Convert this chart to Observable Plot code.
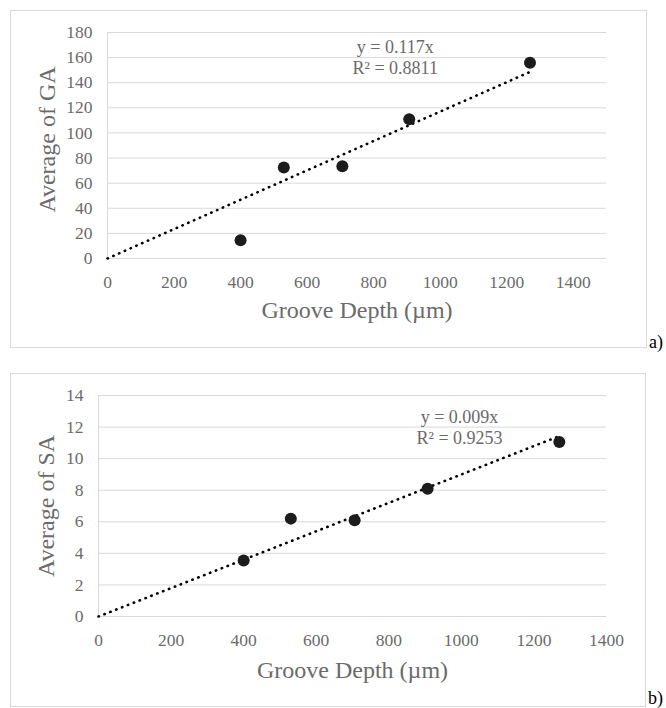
<!DOCTYPE html>
<html><head><meta charset="utf-8">
<script src="https://cdn.jsdelivr.net/npm/d3@7"></script>
<script src="https://cdn.jsdelivr.net/npm/@observablehq/plot@0.6"></script>
<style>
body{margin:0;background:#fff;width:666px;height:708px;position:relative;overflow:hidden;font-family:"Liberation Serif",serif;}
.box{position:absolute;border:1px solid #d9d9d9;box-sizing:border-box;}
.tag{position:absolute;font-size:18px;line-height:1;color:#000;font-family:"Liberation Serif",serif;}
svg{position:absolute;}
</style></head><body>
<script>
// Data
const grooveDepth = [400, 530, 706, 907, 1270];
const averageGA = [14.5, 72.5, 73.5, 111, 156];
const averageSA = [3.55, 6.2, 6.1, 8.1, 11.05];
const xTicks = [0, 200, 400, 600, 800, 1000, 1200, 1400];
const gaTicks = [0, 20, 40, 60, 80, 100, 120, 140, 160, 180];
const saTicks = [0, 2, 4, 6, 8, 10, 12, 14];
const gaSlope = 0.117;
const saSlope = 0.009;
const gaEquation = ["y = 0.117x", "R² = 0.8811"];
const saEquation = ["y = 0.009x", "R² = 0.9253"];
const xTitle = "Groove Depth (µm)";
const gaTitle = "Average of GA";
const saTitle = "Average of SA";
const textGray = "#6b6b6b";

function panel(cfg) {
  const rows = grooveDepth.map((x, i) => ({x, y: cfg.values[i]}));
  const xMax = d3.max(grooveDepth);
  const box = document.createElement("div");
  box.className = "box";
  Object.assign(box.style, {left: cfg.left + "px", top: cfg.top + "px", width: cfg.w + "px", height: cfg.h + "px"});
  document.body.appendChild(box);
  const svg = Plot.plot({
    width: cfg.w, height: cfg.h,
    marginLeft: cfg.ml, marginRight: cfg.mr, marginTop: cfg.mt, marginBottom: cfg.mb,
    style: {fontFamily: '"Liberation Serif", serif', fontSize: "17.5px", color: textGray, background: "transparent", overflow: "visible"},
    x: {domain: cfg.xDomain},
    y: {domain: cfg.yDomain},
    marks: [
      Plot.gridY(cfg.yTicks, {stroke: "#d9d9d9", strokeOpacity: 1, strokeWidth: 1}),
      Plot.ruleX([0], {stroke: "#d9d9d9", strokeWidth: 1}),
      Plot.axisX(xTicks, {tickSize: 0, tickPadding: 17, tickFormat: d => String(d), label: null}),
      Plot.axisY(cfg.yTicks, {tickSize: 0, tickPadding: 15, tickFormat: d => String(d), label: null}),
      Plot.line([0, xMax], {x: d => d, y: d => cfg.slope * d, stroke: "#000", strokeWidth: 2.6, strokeDasharray: "0.4 5.9", strokeLinecap: "round"}),
      Plot.dot(rows, {x: "x", y: "y", r: 6, fill: "#1c1c1c", stroke: "none"}),
      Plot.text([cfg.eq.join("\n")], {x: cfg.eqX, y: cfg.eqY, fontSize: 18, lineHeight: 1.17, fill: textGray}),
      Plot.text([xTitle], {frameAnchor: "bottom", lineAnchor: "middle", textAnchor: "middle", dy: cfg.xtDy, fontSize: 24, fill: textGray}),
      Plot.text([cfg.yTitle], {frameAnchor: "left", rotate: -90, textAnchor: "middle", lineAnchor: "middle", dx: cfg.ytDx, dy: cfg.ytDy, fontSize: 24, fill: textGray})
    ]
  });
  svg.style.left = cfg.left + "px";
  svg.style.top = cfg.top + "px";
  document.body.appendChild(svg);
  const tag = document.createElement("div");
  tag.className = "tag";
  tag.textContent = cfg.tag;
  Object.assign(tag.style, {left: cfg.tagX + "px", top: cfg.tagY + "px"});
  document.body.appendChild(tag);
}

panel({
  values: averageGA, slope: gaSlope, yTicks: gaTicks, yDomain: [0, 180], xDomain: [0, 1500],
  left: 10, top: 10, w: 637, h: 338, ml: 97, mr: 41, mt: 22, mb: 90,
  eq: gaEquation, eqX: 865, eqY: 160.7, yTitle: gaTitle, xtDy: 52, ytDx: -60, ytDy: -6,
  tag: "a)", tagX: 649, tagY: 333
});
panel({
  values: averageSA, slope: saSlope, yTicks: saTicks, yDomain: [0, 14], xDomain: [0, 1400],
  left: 10, top: 373, w: 636, h: 334, ml: 88, mr: 40, mt: 22, mb: 91,
  eq: saEquation, eqX: 995, eqY: 12.0, yTitle: saTitle, xtDy: 54, ytDx: -52, ytDy: 0,
  tag: "b)", tagX: 648, tagY: 689
});
</script>
</body></html>
